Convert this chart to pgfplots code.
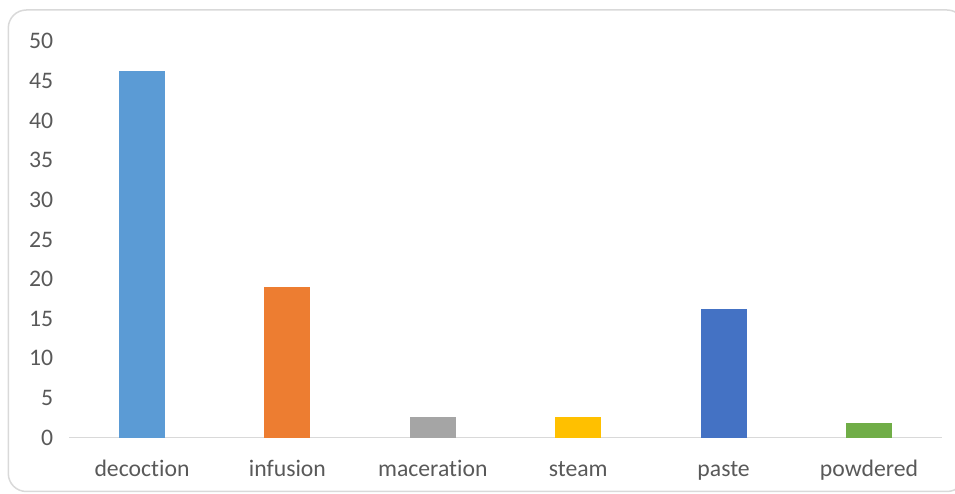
\documentclass[border=0pt]{standalone}
\usepackage{fontspec}
\setmainfont{Carlito}[Ligatures=NoCommon]
\usepackage{pgfplots}
\pgfplotsset{compat=1.18}
\definecolor{cA}{HTML}{5B9BD5}
\definecolor{cB}{HTML}{ED7D31}
\definecolor{cC}{HTML}{A5A5A5}
\definecolor{cD}{HTML}{FFC000}
\definecolor{cE}{HTML}{4472C4}
\definecolor{cF}{HTML}{70AD47}
\definecolor{txt}{HTML}{595959}
\definecolor{axl}{HTML}{D9D9D9}
\definecolor{frm}{HTML}{D9D9D9}
\begin{document}
\fontsize{23.8}{28}\selectfont
\begin{tikzpicture}
\useasboundingbox (0,0) rectangle (955bp,494bp);
\draw[color=frm, line width=1.5bp, rounded corners=18bp] (8.3bp,2.5bp) rectangle (965bp,484bp);
\begin{axis}[
  at={(69.3bp,56.4bp)}, anchor=south west,
  scale only axis, width=872.4bp, height=396.3bp,
  xmin=-0.5, xmax=5.5, ymin=0, ymax=50,
  ybar, bar width=46bp,
  axis lines=left,
  axis line style={-},
  y axis line style={draw=none},
  x axis line style={color=axl, line width=1.5bp},
  major tick length=0pt,
  ytick={0,5,...,50},
  xtick={0,1,2,3,4,5},
  xticklabels={decoction,infusion,maceration,steam,paste,powdered},
  /pgf/number format/assume math mode=true,
  yticklabel style={anchor=east, inner sep=0pt, xshift=-16bp, text=txt, font=\fontsize{23.8}{28}\selectfont},
  xticklabel style={anchor=base, inner sep=0pt, yshift=-39bp, text=txt, font=\fontsize{23.8}{28}\selectfont},
  every axis plot/.append style={draw=none, bar shift=0pt},
  clip=false,
]
\addplot[fill=cA] coordinates {(0,46.2)};
\addplot[fill=cB] coordinates {(1,19)};
\addplot[fill=cC] coordinates {(2,2.6)};
\addplot[fill=cD] coordinates {(3,2.6)};
\addplot[fill=cE] coordinates {(4,16.2)};
\addplot[fill=cF] coordinates {(5,1.9)};
\end{axis}
\end{tikzpicture}
\end{document}
